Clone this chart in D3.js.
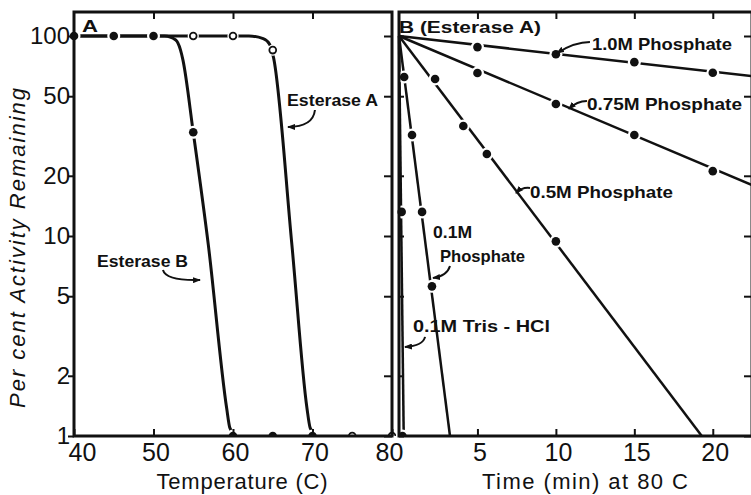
<!DOCTYPE html>
<html>
<head>
<meta charset="utf-8">
<script src="https://cdn.jsdelivr.net/npm/d3@7/dist/d3.min.js"></script>
<style>
  body { margin: 0; background: #fff; }
  svg { display: block; }
  text { font-family: "Liberation Sans", Arial, sans-serif; fill: #111; }
</style>
</head>
<body>
<div id="chart"></div>
<script>
// ---- shared y axis (log, per cent activity)
const pctTicks = [1, 2, 5, 10, 20, 50, 100];

// ---- panel A: temperature
const tempTicks = [40, 50, 60, 70, 80];
// guide points
const curveEstA = [[40, 100], [62, 100], [63.8, 97], [64.6, 91], [65.1, 78], [67.4, 9.1], [69.3, 1.38], [69.7, 1.1], [70.4, 1]];
const curveEstB = [[40, 100], [51.4, 100], [52.8, 95.5], [53.4, 85], [53.7, 76], [55, 33], [56.9, 9.0], [59.2, 1.38], [59.6, 1.1], [60.3, 1]];
const pointsAFilled = [[40, 100], [45, 100], [50, 100], [55, 33], [60, 1], [65, 1], [70, 1]];
const pointsAOpen = [[55, 100], [60, 100], [65, 85], [75, 1], [80, 1]];

// ---- panel B: time at 80 C (Esterase A)
const timeTicks = [5, 10, 15, 20];
const line10M = [[0, 100], [22.5, 63]];
const line075M = [[0, 100], [22.5, 18]];
const line05M = [[0, 100], [19.3, 1]];
const line01M = [[0, 100], [3.25, 1]];
const lineTris = [[0, 100], [0.3, 1]];
const pts10M = [[5, 88], [10, 81], [15, 74], [20, 65.5]];
const pts075M = [[5, 65.3], [10, 45.7], [15, 32], [20, 21.1]];
const pts05M = [[2.3, 61], [4.1, 35.5], [5.6, 25.7], [10, 9.4]];
const pts01M = [[0.33, 62.4], [0.83, 32], [1.47, 13.2], [2.1, 5.6]];
const ptsTris = [[0.17, 13.2], [0.22, 1]];

// labels: left x / baseline in data units, arrow = start, control, tip
const labelsA = [
  { text: 'A', x: 41.0, y: 104.7, len: 16 },
  { text: 'Esterase A', x: 66.8, y: 44.7, len: 91, arrow: [[70.31, 42.66], [70.06, 35.1], [66.92, 35.1]] },
  { text: 'Esterase B', x: 42.9, y: 7.02, len: 91, arrow: [[51.19, 6.76], [51.57, 5.96], [55.85, 6.03]] }
];
const labelsB = [
  { text: 'B (Esterase A)', x: 0.0, y: 103.5, len: 142 },
  { text: '1.0M Phosphate', x: 12.3, y: 85, len: 140, arrow: [[12.17, 93.3], [11.2, 93.3], [10.07, 82.2]] },
  { text: '0.75M Phosphate', x: 11.98, y: 42.7, len: 155, arrow: [[11.98, 47.3], [11.34, 47.3], [10.83, 43.2]] },
  { text: '0.5M Phosphate', x: 8.35, y: 15.5, len: 143, arrow: [[8.35, 17.4], [7.84, 17.6], [7.46, 16.4]] },
  { text: '0.1M', x: 2.17, y: 9.77, len: 39 },
  { text: 'Phosphate', x: 2.61, y: 7.4, len: 85, arrow: [[3.25, 7.08], [3.06, 6.3], [2.17, 6.17]] },
  { text: '0.1M Tris - HCl', x: 0.89, y: 3.3, len: 137, arrow: [[1.66, 3.13], [1.53, 2.82], [0.38, 2.79]] }
];

const width = 751, height = 495;
const yTop = 12, yBottom = 436;

const svg = d3.select('#chart').append('svg')
  .attr('width', width)
  .attr('height', height);

const defs = svg.append('defs');
defs.append('marker')
  .attr('id', 'head')
  .attr('viewBox', '0 0 8 6')
  .attr('refX', 7).attr('refY', 3)
  .attr('markerWidth', 8).attr('markerHeight', 6)
  .attr('markerUnits', 'userSpaceOnUse')
  .attr('orient', 'auto')
  .append('path').attr('d', 'M0,0 L8,3 L0,6 Z').attr('fill', '#111');

const y = d3.scaleLog()
  .domain([1, Math.pow(10, 2 + 24 / 200)])
  .range([yBottom, yTop]);

const xA = d3.scaleLinear().domain([40, 80]).range([74, 392]);
const xB = d3.scaleLinear().domain([0, 22.5]).range([399, 752]);

function clip(id, x0, x1) {
  defs.append('clipPath').attr('id', id)
    .append('rect')
    .attr('x', x0).attr('y', 0)
    .attr('width', x1 - x0).attr('height', yBottom);
}
clip('clipA', 60, 400);
clip('clipB', 395, 760);

function drawLine(g, x, pts, w, curve) {
  g.append('path')
    .datum(pts)
    .attr('fill', 'none')
    .attr('stroke', '#111')
    .attr('stroke-width', w)
    .attr('stroke-linejoin', 'round')
    .attr('d', d3.line().x(d => x(d[0])).y(d => y(d[1])).curve(curve || d3.curveLinear));
}

function drawPoints(g, x, pts, open) {
  const r = open ? 3.4 : 4.3;
  // white halo leaves the small gap around each point
  g.selectAll(null).data(pts).enter().append('circle')
    .attr('cx', d => x(d[0])).attr('cy', d => y(d[1]))
    .attr('r', r + 2.2).attr('fill', '#fff');
  g.selectAll(null).data(pts).enter().append('circle')
    .attr('cx', d => x(d[0])).attr('cy', d => y(d[1]))
    .attr('r', r)
    .attr('fill', open ? '#fff' : '#111')
    .attr('stroke', '#111')
    .attr('stroke-width', open ? 1.8 : 0);
}

function drawLabels(g, x, labels) {
  labels.forEach(l => {
    g.append('text')
      .attr('x', x(l.x)).attr('y', y(l.y))
      .attr('font-size', 17)
      .attr('font-weight', 'bold')
      .attr('textLength', l.len)
      .attr('lengthAdjust', 'spacingAndGlyphs')
      .text(l.text);
    if (l.arrow) {
      const p = l.arrow.map(d => [x(d[0]), y(d[1])]);
      g.append('path')
        .attr('d', `M${p[0][0]},${p[0][1]} Q${p[1][0]},${p[1][1]} ${p[2][0]},${p[2][1]}`)
        .attr('fill', 'none')
        .attr('stroke', '#111')
        .attr('stroke-width', 2)
        .attr('marker-end', 'url(#head)');
    }
  });
}

function styleAxis(g, size) {
  g.select('.domain').remove();
  g.selectAll('.tick line').attr('stroke', '#111').attr('stroke-width', 2);
  g.selectAll('.tick text')
    .attr('font-size', size || 24)
    .attr('fill', '#111')
    .style('font-family', '"Liberation Sans", Arial, sans-serif');
}

// ---------- Panel A
const gA = svg.append('g');
const plotA = gA.append('g').attr('clip-path', 'url(#clipA)');
drawLine(plotA, xA, curveEstB, 3, d3.curveMonotoneX);
drawLine(plotA, xA, curveEstA, 3, d3.curveMonotoneX);
drawPoints(plotA, xA, pointsAFilled, false);
drawPoints(plotA, xA, pointsAOpen, true);

gA.append('g').attr('transform', 'translate(74,0)')
  .call(d3.axisLeft(y).tickValues(pctTicks).tickFormat(d3.format('d'))
    .tickSizeInner(6).tickSizeOuter(0).tickPadding(-2))
  .call(styleAxis);
gA.append('g').attr('transform', 'translate(392,0)')
  .call(d3.axisLeft(y).tickValues(pctTicks).tickFormat('').tickSizeInner(8).tickSizeOuter(0))
  .call(styleAxis);
gA.append('g').attr('transform', `translate(0,${yBottom})`)
  .call(d3.axisBottom(xA).tickValues(tempTicks).tickFormat(d3.format('d'))
    .tickSizeInner(-7).tickSizeOuter(0).tickPadding(7))
  .call(styleAxis, 25)
  .call(g => g.selectAll('.tick text').attr('dx', d => d === 40 ? 8 : d === 80 ? -3 : 2));
gA.append('g').attr('transform', `translate(0,${yTop})`)
  .call(d3.axisTop(xA).tickValues([50, 60, 70]).tickFormat('').tickSizeInner(-7).tickSizeOuter(0))
  .call(styleAxis);

gA.append('rect')
  .attr('x', 74).attr('y', yTop)
  .attr('width', 392 - 74).attr('height', yBottom - yTop)
  .attr('fill', 'none').attr('stroke', '#111').attr('stroke-width', 3);

drawLabels(gA, xA, labelsA);

// ---------- Panel B
const gB = svg.append('g');
const plotB = gB.append('g').attr('clip-path', 'url(#clipB)');
[line10M, line075M, line05M, line01M, lineTris].forEach(l => drawLine(plotB, xB, l, 2.5));
[pts10M, pts075M, pts05M, pts01M, ptsTris].forEach(p => drawPoints(plotB, xB, p, false));

gB.append('g').attr('transform', 'translate(399,0)')
  .call(d3.axisRight(y).tickValues(pctTicks).tickFormat('').tickSizeInner(5).tickSizeOuter(0))
  .call(styleAxis);
gB.append('g').attr('transform', 'translate(752,0)')
  .call(d3.axisLeft(y).tickValues(pctTicks).tickFormat('').tickSizeInner(8).tickSizeOuter(0))
  .call(styleAxis);
gB.append('g').attr('transform', `translate(0,${yBottom})`)
  .call(d3.axisBottom(xB).tickValues(timeTicks).tickFormat(d3.format('d'))
    .tickSizeInner(-7).tickSizeOuter(0).tickPadding(7))
  .call(styleAxis, 25)
  .call(g => g.selectAll('.tick text').attr('dx', 2));
gB.append('g').attr('transform', `translate(0,${yTop})`)
  .call(d3.axisTop(xB).tickValues(timeTicks).tickFormat('').tickSizeInner(-7).tickSizeOuter(0))
  .call(styleAxis);

gB.append('rect')
  .attr('x', 399).attr('y', yTop)
  .attr('width', 752 - 399).attr('height', yBottom - yTop)
  .attr('fill', 'none').attr('stroke', '#111').attr('stroke-width', 3);

drawLabels(gB, xB, labelsB);

// ---------- axis titles
svg.append('text')
  .attr('x', 242).attr('y', 489)
  .attr('text-anchor', 'middle')
  .attr('font-size', 22)
  .attr('textLength', 171)
  .text('Temperature (C)');

svg.append('text')
  .attr('x', 585).attr('y', 489)
  .attr('text-anchor', 'middle')
  .attr('font-size', 22)
  .attr('textLength', 206)
  .text('Time (min) at 80 C');

svg.append('text')
  .attr('transform', 'translate(25,248) rotate(-90)')
  .attr('text-anchor', 'middle')
  .attr('font-size', 22)
  .attr('font-style', 'italic')
  .attr('textLength', 320)
  .text('Per cent Activity Remaining');
</script>
</body>
</html>
